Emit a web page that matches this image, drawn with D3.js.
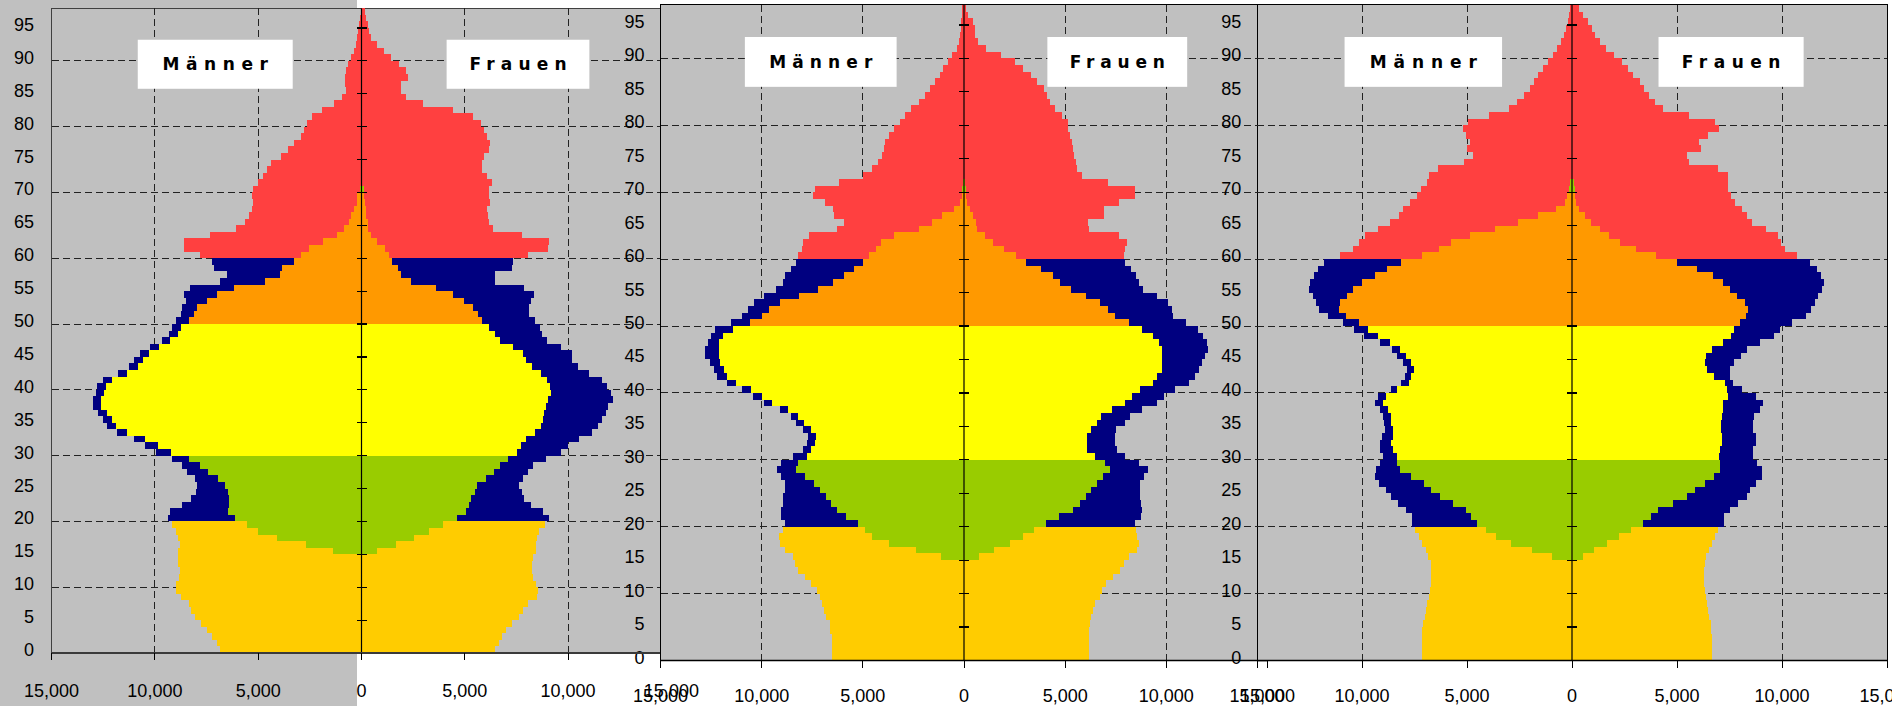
<!DOCTYPE html>
<html>
<head>
<meta charset="utf-8">
<script src="https://cdn.jsdelivr.net/npm/d3@7"></script>
<style>
html,body{margin:0;padding:0;background:#ffffff;}
svg{display:block;}
</style>
</head>
<body>
<svg id="chart" width="1892" height="706"></svg>
<script>
// ---------------- DATA ----------------
const AGES = d3.range(0, 98); // age categories 0..97
const AGE_TICKS = [0,5,10,15,20,25,30,35,40,45,50,55,60,65,70,75,80,85,90,95];
const AGE_TICK_LABELS = ["0","5","10","15","20","25","30","35","40","45","50","55","60","65","70","75","80","85","90","95"];
const AGE_GRID = [10,20,30,40,50,60,70,80,90];
const X_TICKS = [-15000,-10000,-5000,0,5000,10000,15000];
const X_TICK_LABELS = ["15,000","10,000","5,000","0","5,000","10,000","15,000"];
const X_GRID = [-10000,-5000,5000,10000];
const SEX_LABELS = ["Männer","Frauen"];

// Panel 1
const P1_MEN_TOTAL = [6860,7010,7250,7470,7780,8080,8250,8370,8750,9000,
 8960,8810,8790,8880,8900,8880,8770,8880,8980,9160,
 9380,9260,8710,8230,8020,7940,8080,8430,8670,9180,
 9950,10480,11030,11840,12310,12530,12770,13020,13020,12860,
 12820,12530,11800,11230,11030,10740,10240,9670,9340,9180,
 8960,8730,8670,8490,8570,8290,6840,6500,7130,7230,
 7800,8570,8570,7330,6070,5630,5440,5300,5260,5320,
 5240,5020,4790,4590,4370,3900,3550,3270,2950,2800,
 2640,2400,1930,1340,950,770,790,790,750,650,
 510,370,280,220,160,120,80,40];
const P1_MEN_INNER = [0,0,0,0,0,0,0,0,0,0,
 0,0,0,0,0,1380,2680,4100,5000,5540,
 6110,6440,6420,6420,6460,6600,6930,7410,7800,8370,
 9220,9850,10480,11350,11860,12100,12330,12610,12610,12470,
 12370,12080,11370,10800,10600,10300,9810,9260,8880,8730,
 8370,8120,7940,7470,6970,6170,4670,3940,3840,3290,
 2940,2540,1870,1180,850,610,510,350,240,200,
 60,30,0,0,0,0,0,0,0,0,
 0,0,0,0,0,0,0,0,0,0,
 0,0,0,0,0,0,0,0];
const P1_WOMEN_TOTAL = [6480,6640,6800,7000,7290,7640,7820,8040,8490,8550,
 8430,8310,8250,8250,8310,8430,8430,8510,8610,8870,
 9060,8790,8210,7860,7760,7640,7840,8080,8290,8940,
 9650,9990,10520,11170,11430,11660,11820,11920,12150,12060,
 11900,11660,11010,10480,10180,10180,9650,9000,8750,8650,
 8390,8120,8120,8200,8350,7860,6460,6460,7290,7330,
 8080,9020,9060,7780,6360,6150,6110,6070,6230,6150,
 6170,6320,6070,5850,5810,5930,6170,6230,6090,5930,
 5790,5400,4450,2990,2170,1930,1930,2230,2170,1830,
 1420,1080,730,470,350,300,240,160];
const P1_WOMEN_INNER = [0,0,0,0,0,0,0,0,0,0,
 0,0,0,0,0,770,1650,2520,3270,3940,
 4610,5040,5220,5320,5480,5610,6010,6420,6680,7070,
 7530,7700,7960,8390,8670,8770,8850,8940,9020,9180,
 9140,9000,8710,8270,7960,7840,7330,6720,6440,6190,
 5850,5630,5420,4960,4410,3590,2400,1930,1770,1460,
 1340,1120,750,470,330,300,240,220,180,140,
 100,40,0,0,0,0,0,0,0,0,
 0,0,0,0,0,0,0,0,0,0,
 0,0,0,0,0,0,0,0];

// Panel 2
const P2_MEN_TOTAL = [6530,6530,6530,6530,6610,6630,6810,6940,7020,7140,
 7280,7540,7880,8210,8350,8450,8830,9090,9130,8950,
 8850,9050,9050,8950,8930,8870,8870,9050,9230,9050,
 8450,7940,7740,7700,7960,8290,8550,9090,9900,10420,
 10970,11710,12200,12360,12560,12780,12780,12660,12500,12300,
 11510,10950,10670,10360,9880,9310,8950,8850,8570,8310,
 8190,8000,7980,7660,6270,5930,6410,6470,6870,7460,
 7360,6170,5000,4560,4270,4050,3950,3910,3710,3470,
 3170,2900,2620,2200,1940,1690,1410,1190,1050,790,
 600,360,240,200,160,160,120,80];
const P2_MEN_INNER = [0,0,0,0,0,0,0,0,0,0,
 0,0,0,0,0,1150,2380,3710,4540,4900,
 5240,5830,6270,6570,6830,7140,7420,7860,8310,8210,
 7760,7560,7360,7320,7560,7900,8190,8710,9500,9980,
 10520,11270,11710,11870,12060,12120,12120,12120,11910,11410,
 10560,10000,9640,9090,8140,7220,6470,5930,5440,5000,
 4680,4350,4110,3450,2220,1570,1090,500,180,120,
 80,40,0,0,0,0,0,0,0,0,
 0,0,0,0,0,0,0,0,0,0,
 0,0,0,0,0,0,0,0];
const P2_WOMEN_TOTAL = [6170,6170,6170,6170,6170,6210,6290,6370,6470,6730,
 6830,7040,7360,7700,7900,8140,8530,8630,8570,8490,
 8450,8750,8790,8750,8710,8710,8710,8910,9090,8630,
 7980,7580,7440,7440,7500,7980,8190,8790,9560,9860,
 10440,11110,11410,11610,11770,11930,12080,12020,11830,11550,
 10970,10320,10300,10080,9540,8830,8630,8490,8250,7940,
 7920,7980,8080,7640,6170,6130,6940,6940,7640,8430,
 8430,7140,5810,5600,5520,5440,5400,5340,5260,5160,
 5160,4840,4480,4230,4090,3950,3630,3310,2940,2500,
 1810,1090,670,560,520,460,220,120];
const P2_WOMEN_INNER = [0,0,0,0,0,0,0,0,0,0,
 0,0,0,0,0,750,1470,2280,2900,3470,
 4070,4700,5380,5750,6050,6290,6570,6870,7240,6960,
 6470,6090,6090,6090,6270,6570,6770,7320,7940,8290,
 8710,9350,9560,9800,9800,9800,9800,9640,9330,8790,
 8140,7460,7120,6730,6030,5280,4760,4390,3790,3080,
 2560,2000,1450,1030,650,600,440,280,160,120,
 80,40,0,0,0,0,0,0,0,0,
 0,0,0,0,0,0,0,0,0,0,
 0,0,0,0,0,0,0,0];

// Panel 3
const P3_MEN_TOTAL = [7120,7120,7120,7120,7120,7080,7020,6970,6890,6830,
 6770,6730,6710,6710,6730,6870,6950,7140,7300,7490,
 7630,7630,7900,8290,8620,8850,9190,9380,9340,9150,
 9010,9150,9150,9030,8910,8970,9010,9150,9360,9240,
 8620,8150,7940,7840,8060,8330,8580,9150,9890,10390,
 10920,11600,12030,12180,12320,12510,12470,12280,12100,11810,
 11050,10430,10120,9850,9240,8660,8250,8060,7710,7380,
 7200,6890,6790,6380,5140,4710,4980,4850,5040,5200,
 4940,3950,3000,2610,2300,1990,1830,1600,1360,1130,
 900,700,510,370,290,210,160,80];
const P3_MEN_INNER = [0,0,0,0,0,0,0,0,0,0,
 0,0,0,0,0,950,1910,2900,3620,4090,
 4510,4790,5040,5660,6290,6710,7040,7670,8170,8310,
 8310,8540,8620,8520,8520,8600,8600,8740,9010,8850,
 8330,7780,7650,7530,7670,7900,8170,8680,9260,9710,
 10140,10780,11090,11050,10720,10430,10000,9380,8820,8150,
 7140,6320,5760,4880,3660,2550,1600,780,330,250,
 140,80,0,0,0,0,0,0,0,0,
 0,0,0,0,0,0,0,0,0,0,
 0,0,0,0,0,0,0,0];
const P3_WOMEN_TOTAL = [6670,6670,6670,6670,6640,6600,6540,6480,6420,6360,
 6310,6270,6270,6270,6310,6360,6540,6690,6830,6950,
 7220,7220,7510,7920,8310,8480,8760,9030,9050,8800,
 8640,8640,8780,8760,8640,8640,8680,8970,9090,8740,
 8100,7670,7510,7510,7730,8060,8310,8930,9610,9920,
 10490,11130,11400,11580,11720,11910,12010,11850,11660,11330,
 10720,10140,9940,9810,9260,8560,8310,8110,7780,7570,
 7430,7430,7430,6950,5590,5490,6150,6070,6480,7010,
 6810,5590,4340,3970,3680,3440,3230,2920,2650,2370,
 1980,1630,1340,1110,930,780,510,330];
const P3_WOMEN_INNER = [0,0,0,0,0,0,0,0,0,0,
 0,0,0,0,0,530,1050,1670,2260,2800,
 3390,3740,4090,4830,5490,5880,6310,6750,7040,7040,
 6990,7040,7120,7120,7080,7080,7120,7180,7180,7430,
 7380,7280,6750,6420,6310,6400,6690,7180,7590,7710,
 8000,8290,8390,8230,7860,7530,7200,6710,5970,5020,
 4010,3040,2300,1770,1320,910,620,330,180,120,
 120,80,0,0,0,0,0,0,0,0,
 0,0,0,0,0,0,0,0,0,0,
 0,0,0,0,0,0,0,0];

// ---------------- STYLE / LAYOUT ----------------
const BAND_START = [0, 15, 20, 30, 50, 60, 70, 72];
const BAND_OUTER = ["#FFCC00","#FFCC00","#000080","#000080","#000080","#FF4040","#FF4040","#FF4040"];
const BAND_INNER = [null,"#99CC00","#99CC00","#FFFF00","#FF9900","#FF9900","#99CC00",null];
function band(a){ let i = 0; for (let k=0;k<BAND_START.length;k++) if (a>=BAND_START[k]) i=k; return i; }

const panelData = [
  {men:P1_MEN_TOTAL, menIn:P1_MEN_INNER, women:P1_WOMEN_TOTAL, womenIn:P1_WOMEN_INNER},
  {men:P2_MEN_TOTAL, menIn:P2_MEN_INNER, women:P2_WOMEN_TOTAL, womenIn:P2_WOMEN_INNER},
  {men:P3_MEN_TOTAL, menIn:P3_MEN_INNER, women:P3_WOMEN_TOTAL, womenIn:P3_WOMEN_INNER}
];
const layouts = [
  {x0:51.6, x1:671.4, yB:653,   step:6.58, left:true,  right:true,  border:"#404040", baseW:2.2, baseCol:"#3a3a3a", labY:696.5},
  {x0:660.5,x1:1267.5,yB:660.5, step:6.69, left:false, right:true,  border:"#000",    baseW:1.5, baseCol:"#000",    labY:701.5},
  {x0:1257, x1:1887,  yB:660.5, step:6.69, left:false, right:false, border:"#000",    baseW:1.5, baseCol:"#000",    labY:701.5}
];
const boxes = [
  {text:SEX_LABELS[0], from:-10830, to:-3330},
  {text:SEX_LABELS[1], from:4120,   to:11030}
];
const FONT = "'Liberation Sans', Arial, sans-serif";
const svg = d3.select("#chart");

// chart area background of first panel
svg.append("rect").attr("x",0).attr("y",0).attr("width",357).attr("height",706).attr("fill","#C0C0C0");

// secondary label scale (right side category labels)
const ySec = d3.scaleLinear().domain([0,98]).range([660.5, 660.5 - 98*6.69]);

layouts.forEach((L, pi) => {
  const D = panelData[pi];
  const g = svg.append("g");
  const x = d3.scaleLinear().domain([-15000,15000]).range([L.x0, L.x1]);
  const y = d3.scaleLinear().domain([0,98]).range([L.yB, L.yB - 98*L.step]);

  // plot background
  g.append("rect").attr("x",x(-15000)).attr("y",y(98))
    .attr("width",x(15000)-x(-15000)).attr("height",y(0)-y(98))
    .attr("fill","#C0C0C0").attr("stroke",L.border).attr("stroke-width",1)
    .attr("shape-rendering","crispEdges");

  // dashed grid
  g.selectAll("line.gx").data(X_GRID).join("line")
    .attr("x1",d=>x(d)).attr("x2",d=>x(d)).attr("y1",y(98)).attr("y2",y(0))
    .attr("stroke","#222").attr("stroke-width",1).attr("stroke-dasharray","7,4")
    .attr("shape-rendering","crispEdges");
  g.selectAll("line.gy").data(AGE_GRID).join("line")
    .attr("x1",x(-15000)).attr("x2",x(15000)).attr("y1",d=>y(d)).attr("y2",d=>y(d))
    .attr("stroke","#222").attr("stroke-width",1).attr("stroke-dasharray","7,4")
    .attr("shape-rendering","crispEdges");

  const rows = AGES.map(a => ({a, mt:D.men[a], mi:D.menIn[a], wt:D.women[a], wi:D.womenIn[a]}));
  const bars = g.append("g").attr("shape-rendering","crispEdges");
  // outer (total) bars
  bars.selectAll("rect.mo").data(rows).join("rect")
    .attr("x",d=>x(-d.mt)).attr("width",d=>x(0)-x(-d.mt))
    .attr("y",d=>y(d.a+1)).attr("height",d=>y(d.a)-y(d.a+1))
    .attr("fill",d=>BAND_OUTER[band(d.a)]);
  bars.selectAll("rect.wo").data(rows).join("rect")
    .attr("x",x(0)).attr("width",d=>x(d.wt)-x(0))
    .attr("y",d=>y(d.a+1)).attr("height",d=>y(d.a)-y(d.a+1))
    .attr("fill",d=>BAND_OUTER[band(d.a)]);
  // inner bars
  const inM = rows.filter(d=>d.mi>0 && BAND_INNER[band(d.a)]);
  const inW = rows.filter(d=>d.wi>0 && BAND_INNER[band(d.a)]);
  bars.selectAll("rect.mi").data(inM).join("rect")
    .attr("x",d=>x(-d.mi)).attr("width",d=>x(0)-x(-d.mi))
    .attr("y",d=>y(d.a+1)).attr("height",d=>y(d.a)-y(d.a+1))
    .attr("fill",d=>BAND_INNER[band(d.a)]);
  bars.selectAll("rect.wi").data(inW).join("rect")
    .attr("x",x(0)).attr("width",d=>x(d.wi)-x(0))
    .attr("y",d=>y(d.a+1)).attr("height",d=>y(d.a)-y(d.a+1))
    .attr("fill",d=>BAND_INNER[band(d.a)]);

  // center axis and its ticks
  g.append("line").attr("x1",x(0)).attr("x2",x(0)).attr("y1",y(98)).attr("y2",y(0))
    .attr("stroke","#000").attr("stroke-width",1.2);
  g.selectAll("line.ct").data(AGE_TICKS).join("line")
    .attr("x1",x(0)-5).attr("x2",x(0)+5).attr("y1",d=>y(d)).attr("y2",d=>y(d))
    .attr("stroke","#000").attr("stroke-width",1.2).attr("shape-rendering","crispEdges");

  // label boxes
  boxes.forEach(b => {
    const bx0 = x(b.from), bx1 = x(b.to);
    g.append("rect").attr("x",bx0).attr("y",y(93.2)).attr("width",bx1-bx0)
      .attr("height",y(85.75)-y(93.2)).attr("fill","#fff");
    g.append("text").attr("x",(bx0+bx1)/2).attr("y",y(88.55))
      .attr("text-anchor","middle")
      .attr("font-family","'Comic Sans MS','DejaVu Sans',sans-serif")
      .attr("font-weight","bold").attr("font-size",17)
      .attr("textLength",(bx1-bx0)*0.68).attr("lengthAdjust","spacing")
      .attr("fill","#000").text(b.text);
  });

  // left category labels
  if (L.left) {
    g.selectAll("text.ll").data(AGE_TICKS).join("text")
      .attr("x",x(-15000)-17.5).attr("y",d=>y(d)+3)
      .attr("text-anchor","end").attr("font-family",FONT).attr("font-size",18)
      .attr("fill","#000").text((d,i)=>AGE_TICK_LABELS[i]);
  }
  // right category labels
  if (L.right) {
    g.selectAll("text.rl").data(AGE_TICKS).join("text")
      .attr("x",x(13700)).attr("y",d=>ySec(d)+3)
      .attr("text-anchor","end").attr("font-family",FONT).attr("font-size",18)
      .attr("fill","#000").text((d,i)=>AGE_TICK_LABELS[i]);
  }

  // baseline (value axis) with ticks and labels
  g.append("line").attr("x1",x(-15000)).attr("x2",x(15000)).attr("y1",y(0)).attr("y2",y(0))
    .attr("stroke",L.baseCol).attr("stroke-width",L.baseW);
  g.selectAll("line.bt").data(X_TICKS).join("line")
    .attr("x1",d=>x(d)).attr("x2",d=>x(d)).attr("y1",y(0)).attr("y2",y(0)+7)
    .attr("stroke","#000").attr("stroke-width",1).attr("shape-rendering","crispEdges");
  g.selectAll("text.bl").data(X_TICKS).join("text")
    .attr("x",d=>x(d)).attr("y",L.labY)
    .attr("text-anchor","middle").attr("font-family",FONT).attr("font-size",18)
    .attr("fill","#000").text((d,i)=>X_TICK_LABELS[i]);
});
</script>
</body>
</html>
